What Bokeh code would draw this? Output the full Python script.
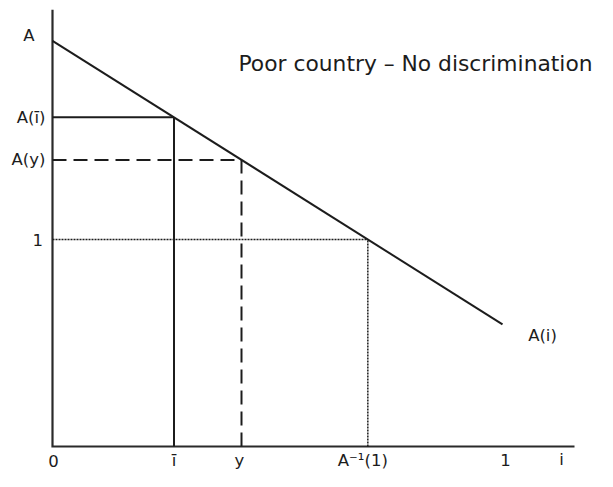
from bokeh.plotting import figure
from bokeh.models import Range1d, Label
from bokeh.core.properties import value
from bokeh.embed import file_html
from bokeh.resources import INLINE

# ---------------- data (schematic values) ----------------
i_vals = [0.0, 1.0]          # i at the two ends of the A(i) line
A_vals = [1.96, 0.59]        # A(i) at those ends
i_bar = 0.27                 # ī
y_val = 0.42                 # y
one = 1.0                    # level 1
axis_i_end = 1.16            # length of the i axis
axis_A_end = 2.11            # height of the A axis

title_text = "Poor country \u2013 No discrimination"
bottom_labels = ["0", "\u012b", "y"]
left_labels = ["A(\u012b)", "A(y)"]

# ---------------- derived from the data ----------------
def A_of(x):
    return A_vals[0] + (A_vals[1] - A_vals[0]) * (x - i_vals[0]) / (i_vals[1] - i_vals[0])

A_ibar = A_of(i_bar)
A_y = A_of(y_val)
A_inv_1 = i_vals[0] + (A_vals[0] - one) / (A_vals[0] - A_vals[1]) * (i_vals[1] - i_vals[0])

# ---------------- layout ----------------
W, H = 597, 471
OX, OY = 52, 446     # canvas px of origin
UX, UY = 450, 207    # px per data unit
px = lambda d: d / UX   # x pixel offset -> data
py = lambda d: d / UY   # y pixel offset -> data

p = figure(width=W, height=H, output_backend="svg", toolbar_location=None,
           x_range=Range1d(-OX / UX, (W - OX) / UX),
           y_range=Range1d(-(H - OY) / UY, OY / UY),
           x_axis_location=None, y_axis_location=None, min_border=0)
p.grid.visible = False
p.outline_line_color = None
p.background_fill_color = "white"

ink = "#1c1c1c"
font = value("DejaVu Sans")
fs = value("16.5px")
common = dict(text_font=font, text_font_size=fs, text_color=ink, text_baseline="middle")

# axes
p.line(x=[0, 0, axis_i_end], y=[axis_A_end, 0, 0], line_color="#2a2a2a",
       line_width=2.2, line_join="miter")

# A(i) line
p.line(x=i_vals, y=A_vals, line_color=ink, line_width=2)

# ī guides (solid)
p.segment(x0=[0, i_bar], y0=[A_ibar, 0], x1=[i_bar, i_bar], y1=[A_ibar, A_ibar],
          line_color=ink, line_width=2)
# y guides (dashed)
p.segment(x0=[0, y_val], y0=[A_y, 0], x1=[y_val, y_val], y1=[A_y, A_y],
          line_color=ink, line_width=2, line_dash="14 7")
# 1 guides (dotted)
p.segment(x0=[0, A_inv_1], y0=[one, 0], x1=[A_inv_1, A_inv_1], y1=[one, one],
          line_color=ink, line_width=1.5, line_dash="2 1")

# bottom labels
p.text(x=[0 + px(1), i_bar, y_val - px(2)], y=[-py(14)] * 3, text=bottom_labels,
       text_align="center", **common)
p.text(x=[A_inv_1 - px(5)], y=[-py(14)], text=["A\u207b\u00b9(1)"],
       text_align="center", **common)
p.text(x=[i_vals[1] + px(3), axis_i_end - px(13)], y=[-py(13)] * 2, text=["1", "i"],
       text_align="center", **common)

# left labels
p.text(x=[-px(23.5)], y=[A_vals[0] + py(5)], text=["A"], text_align="center", **common)
p.text(x=[-px(7), -px(7)], y=[A_ibar, A_y], text=left_labels, text_align="right", **common)
p.text(x=[-px(9.5)], y=[one], text=["1"], text_align="right", **common)

# curve label
p.text(x=[i_vals[1] + px(40)], y=[A_vals[1] - py(11)], text=["A(i)"],
       text_align="center", **common)

# title
p.add_layout(Label(x=238, y=H - 63, x_units="screen", y_units="screen",
                   text=title_text, text_font="DejaVu Sans", text_font_size="21.8px",
                   text_color=ink, text_align="left", text_baseline="middle"))

open("out.html", "w").write(file_html(p, INLINE))
